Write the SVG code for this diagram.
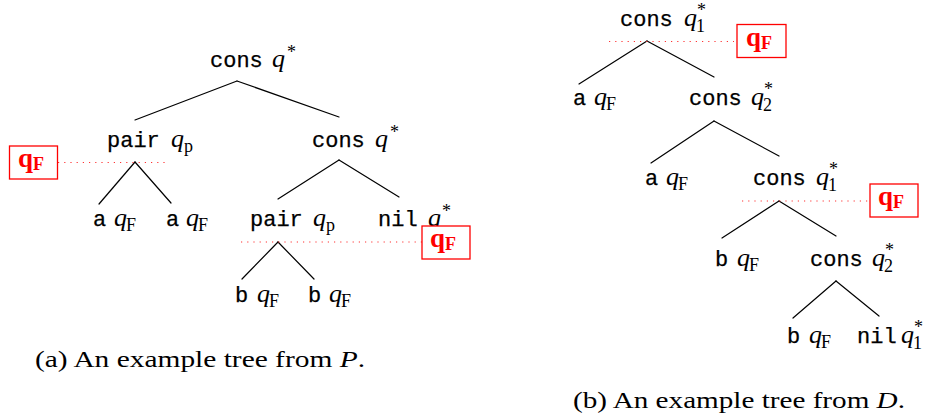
<svg xmlns="http://www.w3.org/2000/svg" width="933" height="418" viewBox="0 0 933 418">
<style>
.bg{fill:#fff}
.e{stroke:#000;stroke-width:1.2;fill:none;stroke-linecap:round}
.dot{stroke:#f33;stroke-width:1.2;stroke-dasharray:1.2 5;fill:none}
.box{fill:#fff;stroke:#f00;stroke-width:1.3}
.tt{font-family:"Liberation Mono","DejaVu Sans Mono",monospace;font-size:22px;fill:#000;stroke:#000;stroke-width:0.25}
.q{font-family:"Liberation Serif","DejaVu Serif",serif;font-style:italic;font-size:26px;fill:#000}
.s{font-family:"Liberation Serif","DejaVu Serif",serif;font-size:18px;fill:#000}
.bq{font-family:"Liberation Serif","DejaVu Serif",serif;font-weight:bold;font-size:27px;fill:#f00}
.bf{font-family:"Liberation Serif","DejaVu Serif",serif;font-weight:bold;font-size:18px;fill:#f00}
.cap{font-family:"Liberation Serif","DejaVu Serif",serif;font-size:24px;fill:#000}
</style>
<rect class="bg" x="0" y="0" width="933" height="418"/>

<g id="connectors">
<line class="e" x1="237" y1="81" x2="135" y2="120"/>
<line class="e" x1="237" y1="81" x2="339" y2="117"/>
<line class="e" x1="135" y1="162" x2="99" y2="204"/>
<line class="e" x1="135" y1="162" x2="171" y2="203"/>
<line class="e" x1="339" y1="160" x2="278" y2="199"/>
<line class="e" x1="339" y1="160" x2="399" y2="197"/>
<line class="e" x1="278" y1="242" x2="242" y2="279"/>
<line class="e" x1="278" y1="242" x2="314" y2="279"/>
<line class="e" x1="647" y1="41" x2="579" y2="84"/>
<line class="e" x1="647" y1="41" x2="714" y2="77"/>
<line class="e" x1="714" y1="121" x2="651" y2="163"/>
<line class="e" x1="714" y1="121" x2="779" y2="156"/>
<line class="e" x1="779" y1="201" x2="722" y2="238"/>
<line class="e" x1="779" y1="201" x2="836" y2="236"/>
<line class="e" x1="836" y1="281" x2="793" y2="318"/>
<line class="e" x1="836" y1="281" x2="879" y2="316"/>
</g>

<g id="annotations">
<line class="dot" x1="58" y1="162.5" x2="168" y2="162.5"/>
<line class="dot" x1="241" y1="242" x2="422" y2="242"/>
<line class="dot" x1="609" y1="41.5" x2="734" y2="41.5"/>
<line class="dot" x1="742" y1="201" x2="868" y2="201"/>
</g>

<!-- left tree -->
<g id="a-root"><text class="tt" x="210" y="67">cons</text><text class="q" x="272" y="67">q</text><text class="s" x="287" y="58">*</text></g>
<g id="a-pair1"><text class="tt" x="107" y="147">pair</text><text class="q" x="171" y="147">q</text><text class="s" x="184" y="152">p</text></g>
<g id="a-cons2"><text class="tt" x="312" y="147">cons</text><text class="q" x="375" y="147">q</text><text class="s" x="390" y="138">*</text></g>
<g id="a-a1"><text class="tt" x="93" y="226">a</text><text class="q" x="114" y="226">q</text><text class="s" x="126" y="231">F</text></g>
<g id="a-a2"><text class="tt" x="166" y="226">a</text><text class="q" x="186" y="226">q</text><text class="s" x="198" y="231">F</text></g>
<g id="a-pair2"><text class="tt" x="250" y="226">pair</text><text class="q" x="313" y="226">q</text><text class="s" x="326" y="231">p</text></g>
<g id="a-nil"><text class="tt" x="378" y="226">nil</text><text class="q" x="428" y="226">q</text><text class="s" x="442" y="217">*</text></g>
<g id="a-b1"><text class="tt" x="235" y="302">b</text><text class="q" x="257" y="302">q</text><text class="s" x="269" y="307">F</text></g>
<g id="a-b2"><text class="tt" x="308" y="302">b</text><text class="q" x="329" y="302">q</text><text class="s" x="341" y="307">F</text></g>
<g id="a-box1"><rect class="box" x="9.5" y="146" width="48" height="33"/><text class="bq" x="18" y="167">q</text><text class="bf" x="33" y="170">F</text></g>
<g id="a-box2"><rect class="box" x="422" y="226" width="48" height="33"/><text class="bq" x="430" y="247">q</text><text class="bf" x="445" y="250">F</text></g>

<!-- right tree -->
<g id="b-root"><text class="tt" x="620" y="26">cons</text><text class="q" x="684" y="26">q</text><text class="s" x="696" y="32">1</text><text class="s" x="697" y="16">*</text></g>
<g id="b-a1"><text class="tt" x="573" y="105">a</text><text class="q" x="594" y="105">q</text><text class="s" x="606" y="110">F</text></g>
<g id="b-cons2"><text class="tt" x="689" y="105">cons</text><text class="q" x="751" y="105">q</text><text class="s" x="763" y="111">2</text><text class="s" x="764" y="95">*</text></g>
<g id="b-a2"><text class="tt" x="645" y="185">a</text><text class="q" x="666" y="185">q</text><text class="s" x="678" y="190">F</text></g>
<g id="b-cons3"><text class="tt" x="753" y="185">cons</text><text class="q" x="816" y="185">q</text><text class="s" x="828" y="191">1</text><text class="s" x="829" y="175">*</text></g>
<g id="b-b1"><text class="tt" x="715" y="266">b</text><text class="q" x="737" y="266">q</text><text class="s" x="749" y="271">F</text></g>
<g id="b-cons4"><text class="tt" x="810" y="266">cons</text><text class="q" x="872" y="266">q</text><text class="s" x="884" y="272">2</text><text class="s" x="885" y="256">*</text></g>
<g id="b-b2"><text class="tt" x="787" y="343">b</text><text class="q" x="809" y="343">q</text><text class="s" x="821" y="348">F</text></g>
<g id="b-nil"><text class="tt" x="857" y="343">nil</text><text class="q" x="901" y="343">q</text><text class="s" x="913" y="349">1</text><text class="s" x="914" y="333">*</text></g>
<g id="b-box1"><rect class="box" x="737" y="24.5" width="49" height="33"/><text class="bq" x="746" y="45.5">q</text><text class="bf" x="761" y="48.5">F</text></g>
<g id="b-box2"><rect class="box" x="870" y="184" width="48" height="33"/><text class="bq" x="878" y="205">q</text><text class="bf" x="893" y="208">F</text></g>

<g id="captions">
<text class="cap" x="35" y="367" textLength="330" lengthAdjust="spacingAndGlyphs">(a) An example tree from <tspan font-style="italic">P</tspan>.</text>
<text class="cap" x="573" y="408" textLength="332" lengthAdjust="spacingAndGlyphs">(b) An example tree from <tspan font-style="italic">D</tspan>.</text>
</g>
</svg>
